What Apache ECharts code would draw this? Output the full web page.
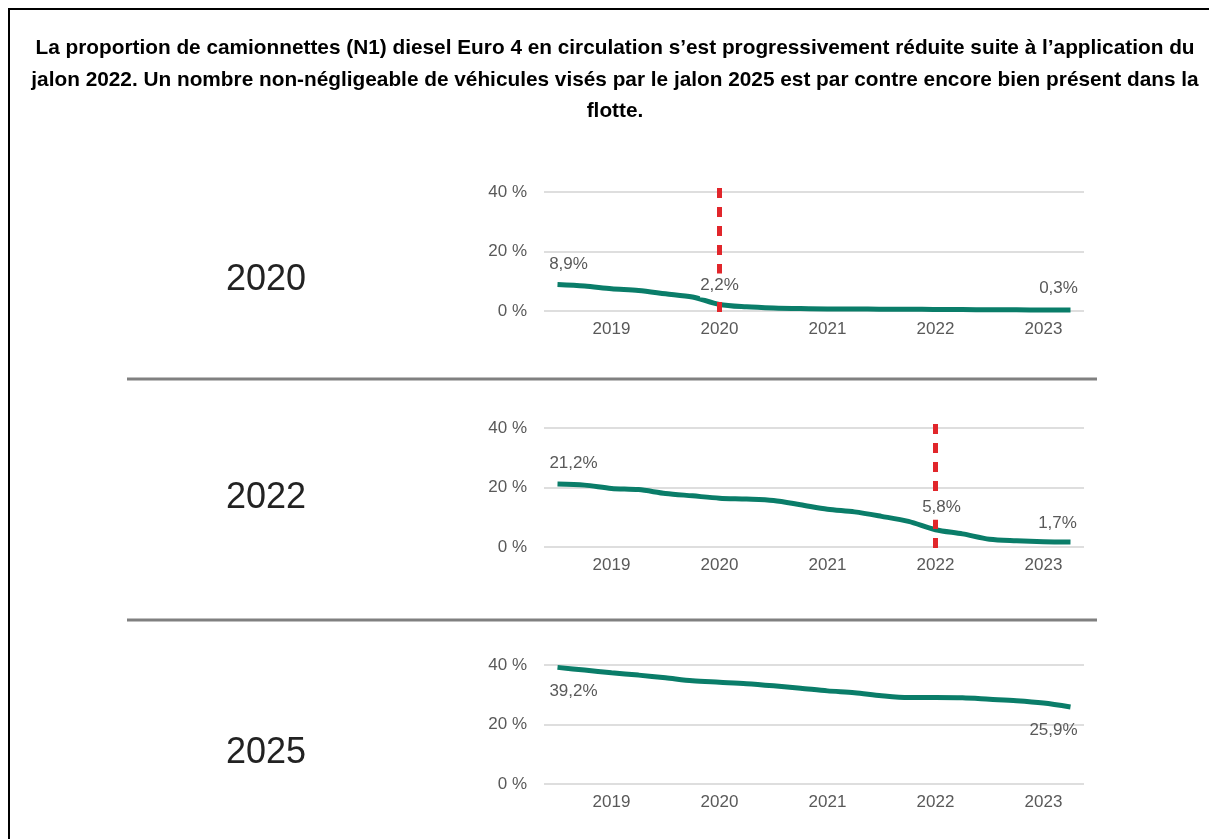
<!DOCTYPE html>
<html>
<head>
<meta charset="utf-8">
<script src="https://cdn.jsdelivr.net/npm/echarts@6/dist/echarts.min.js"></script>
<style>
  html, body { margin: 0; padding: 0; background: #fff; }
  #chart { width: 1209px; height: 839px; }
</style>
</head>
<body>
<div id="chart"></div>
<script>
// quarterly periods, year label shown on each T1
const periods = [
  '2018-T3', '2018-T4',
  '2019-T1', '2019-T2', '2019-T3', '2019-T4',
  '2020-T1', '2020-T2', '2020-T3', '2020-T4',
  '2021-T1', '2021-T2', '2021-T3', '2021-T4',
  '2022-T1', '2022-T2', '2022-T3', '2022-T4',
  '2023-T1', '2023-T2'
];
const yTicks = [0, 20, 40];

// share of Euro 4 diesel vans (%) for each jalon
const jalon2020 = [8.9, 8.4, 7.5, 6.9, 5.8, 4.7, 2.2, 1.4, 1.0, 0.8, 0.7, 0.7, 0.6, 0.6, 0.5, 0.5, 0.4, 0.4, 0.3, 0.3];
const jalon2022 = [21.2, 20.8, 19.7, 19.3, 18.0, 17.2, 16.4, 16.1, 15.6, 14.2, 12.7, 11.8, 10.3, 8.6, 5.8, 4.4, 2.6, 2.1, 1.8, 1.7];
const jalon2025 = [39.2, 38.3, 37.4, 36.6, 35.7, 34.7, 34.2, 33.7, 33.0, 32.2, 31.3, 30.7, 29.7, 29.1, 29.1, 29.0, 28.5, 28.0, 27.2, 25.9];

const panelNames = ['2020', '2022', '2025'];
const panelData = [jalon2020, jalon2022, jalon2025];
const jalonMarks = ['2020-T1', '2022-T1', null];
const labelIndexes = [[0, 6, 19], [0, 14, 19], [0, 19]];

const titleText = 'La proportion de camionnettes (N1) diesel Euro 4 en circulation s’est progressivement réduite suite à l’application du\n' +
  'jalon 2022. Un nombre non-négligeable de véhicules visés par le jalon 2025 est par contre encore bien présent dans la\n' +
  'flotte.';

const FONT = '"Liberation Sans", Arial, sans-serif';
const TXT = '#595959';
const GREEN = '#0a7d69';

// label placement (text centre relative to point)
const labelOffsets = [
  [[11, -20], [0, -19], [-12, -22]],
  [[16, -21], [6, -22], [-13, -19]],
  [[16, 24], [-17, 23]]
];

const gridTops = [192, 428, 665];
const gridH = 119;

let chart = echarts.init(document.getElementById('chart'));

let grids = [], xAxes = [], yAxes = [], series = [];
panelData.forEach(function (vals, p) {
  grids.push({ left: 544, right: 125, top: gridTops[p], height: gridH });
  xAxes.push({
    type: 'category', gridIndex: p, data: periods, boundaryGap: true,
    axisLine: { show: false }, axisTick: { show: false },
    axisLabel: {
      interval: function (i, v) { return v.slice(5) === 'T1'; },
      formatter: function (v) { return v.slice(0, 4); },
      color: TXT, fontSize: 17, fontFamily: FONT, margin: 10
    }
  });
  yAxes.push({
    type: 'value', gridIndex: p, min: yTicks[0], max: yTicks[2], interval: 20,
    axisLabel: { formatter: '{value} %', color: TXT, fontSize: 17, fontFamily: FONT, margin: 17 },
    splitLine: { lineStyle: { color: '#dedede', width: 2 } }
  });
  let line = {
    type: 'line', xAxisIndex: p, yAxisIndex: p, data: vals,
    smooth: 0.3, showSymbol: false, silent: true,
    lineStyle: { color: GREEN, width: 5 }, z: 2
  };
  if (jalonMarks[p]) {
    line.markLine = {
      silent: true, symbol: 'none', z: 3,
      label: { show: false },
      lineStyle: { color: '#e1262b', width: 5, type: [10, 9] },
      data: [[
        { xAxis: jalonMarks[p], y: gridTops[p] - 4 },
        { xAxis: jalonMarks[p], y: gridTops[p] + gridH + 3 }
      ]]
    };
  }
  series.push(line);
  // labels on selected points (white box only where the jalon line crosses)
  series.push({
    type: 'scatter', xAxisIndex: p, yAxisIndex: p, z: 10, silent: true,
    symbolSize: 0, itemStyle: { opacity: 1 },
    data: labelIndexes[p].map(function (i, k) {
      let onJalon = periods[i] === jalonMarks[p];
      return {
        value: [periods[i], vals[i]],
        label: {
          show: true, position: labelOffsets[p][k], align: 'center', verticalAlign: 'middle',
          formatter: vals[i].toFixed(1).replace('.', ',') + '%',
          color: TXT, fontSize: 17, fontFamily: FONT, opacity: 1,
          backgroundColor: onJalon ? '#fff' : 'transparent',
          padding: onJalon ? [7, 0, 0, 0] : 0
        }
      };
    })
  });
});

let graphics = [
  { type: 'rect', shape: { x: 9, y: 9, width: 1400, height: 1000 }, style: { fill: 'none', stroke: '#000', lineWidth: 2 } },
  { type: 'text', x: 615, y: 33, style: { text: titleText, textAlign: 'center', textVerticalAlign: 'top', font: 'bold 20.8px ' + FONT, fill: '#000', lineHeight: 31.5 } },
  { type: 'line', shape: { x1: 127, y1: 379, x2: 1097, y2: 379 }, style: { stroke: '#808080', lineWidth: 3 } },
  { type: 'line', shape: { x1: 127, y1: 620, x2: 1097, y2: 620 }, style: { stroke: '#808080', lineWidth: 3 } }
];
const panelLabelY = [280, 498, 753];
panelNames.forEach(function (n, p) {
  graphics.push({ type: 'text', x: 266, y: panelLabelY[p], style: { text: n, textAlign: 'center', textVerticalAlign: 'middle', font: '36px ' + FONT, fill: '#222' } });
});

chart.setOption({
  backgroundColor: '#fff',
  animation: false,
  grid: grids,
  xAxis: xAxes,
  yAxis: yAxes,
  series: series,
  graphic: graphics
});
</script>
</body>
</html>
